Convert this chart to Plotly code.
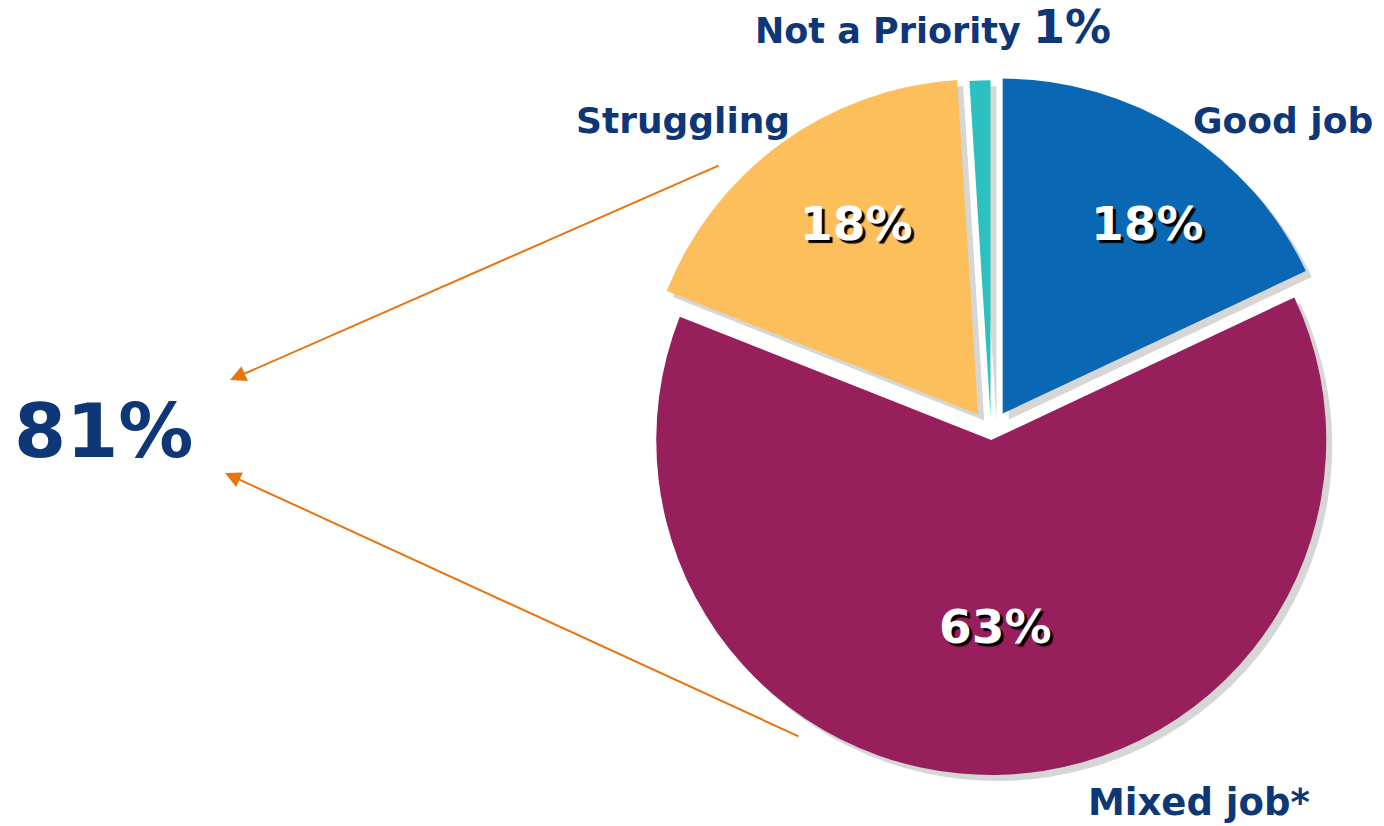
import plotly.graph_objects as go

labels = ["Good job", "Mixed job*", "Struggling", "Not a Priority"]
values = [18, 63, 18, 1]
colors = ["#0967B3", "#961F5C", "#FDBF5B", "#2DC0C0"]
combined = values[1] + values[2]

W, H = 1384, 826
NAVY = "#0E3778"
ORANGE = "#E8740F"
FONT = "DejaVu Sans"

pulls = [0.065, 0.024, 0.065, 0.05]
R = 335
CX, CY = 991, 432
half = R * (1 + max(pulls))
dom_x = [(CX - half) / W, (CX + half) / W]
dom_y = [(H - CY - half) / H, (H - CY + half) / H]
sh = 6
dom_x_s = [(CX - half + sh) / W, (CX + half + sh) / W]
dom_y_s = [(H - CY - half - sh) / H, (H - CY + half - sh) / H]

fig = go.Figure()
fig.add_trace(go.Pie(
    labels=labels, values=values, sort=False, direction="clockwise", rotation=0,
    pull=pulls, marker=dict(colors=["rgba(0,0,0,0.16)"] * 4),
    textinfo="none", hoverinfo="skip", showlegend=False,
    domain=dict(x=dom_x_s, y=dom_y_s),
))
fig.add_trace(go.Pie(
    labels=labels, values=values, sort=False, direction="clockwise", rotation=0,
    pull=pulls, marker=dict(colors=colors),
    textinfo="none", showlegend=False,
    domain=dict(x=dom_x, y=dom_y),
))

def ann(text, x, y, size, color=NAVY, **kw):
    return dict(text=text, x=x / W, y=1 - y / H, xref="paper", yref="paper",
                showarrow=False, xanchor="center", yanchor="middle",
                font=dict(family=FONT, size=size, color=color, weight="bold", **kw))

# percentage labels inside the slices (pixel positions of label centres)
inside_pos = [(1147, 224), (995, 626), (857, 224)]
annotations = []
for v, (px, py) in zip(values[:3], inside_pos):
    annotations.append(ann(f"{v}%", px, py, 47, color="white",
                           shadow="3px 3px 1px #000"))

annotations += [
    ann(labels[0], 1283, 121, 36),
    ann(labels[2], 683, 121, 36),
    ann(f"{labels[3]} <span style='font-size:46px'>{values[3]}%</span>", 933, 27, 35),
    ann(labels[1], 1199, 802, 37),
    ann(f"{combined}%", 104, 431, 75),
]
for hx, hy, tx, ty in [(230, 380, 720, 165), (225, 473, 800, 737)]:
    annotations.append(dict(
        text="", x=hx / W, y=1 - hy / H, xref="paper", yref="paper",
        showarrow=True, ax=tx - hx, ay=ty - hy, axref="pixel", ayref="pixel",
        arrowhead=2, arrowsize=1.6, arrowwidth=2, arrowcolor=ORANGE,
    ))

fig.update_layout(
    width=W, height=H, margin=dict(l=0, r=0, t=0, b=0),
    paper_bgcolor="white", plot_bgcolor="white",
    annotations=annotations,
)
fig.write_html("out.html")
